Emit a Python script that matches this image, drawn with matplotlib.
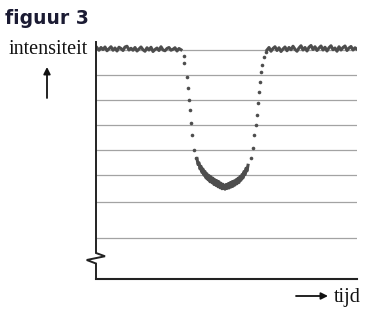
import matplotlib.pyplot as plt

# light curve (time in arbitrary units, intensity in %)
time_before = [1, 3, 5, 7, 9, 11, 13, 15, 17, 19, 21, 23, 25, 27, 29, 31, 33, 35, 37, 39, 41,
               43, 45, 47, 49, 51, 53, 55, 57, 59, 61, 63, 65, 67, 69, 71, 73, 75, 77, 79, 81, 83, 85]
flux_before = [100.9, 99.9, 101.0, 100.2, 101.2, 99.7, 100.5, 101.3, 99.9, 100.8, 99.6, 101.1,
               100.6, 99.8, 101.2, 101.5, 100.0, 100.7, 99.9, 101.0, 99.6, 100.4, 101.2, 100.1,
               99.5, 100.9, 100.0, 101.1, 99.4, 100.2, 100.8, 99.8, 101.3, 100.0, 99.7, 100.6,
               101.0, 99.9, 100.3, 100.9, 99.6, 100.6, 100.1]

time_ingress = [87.5, 88.3, 90.7, 92.3, 93.3, 94.0, 95.0, 96.3, 98.3, 100.0]
flux_ingress = [97.6, 94.8, 89.3, 84.8, 80.0, 76.0, 70.8, 66.0, 60.0, 56.8]

time_bottom = [101, 102, 103, 104, 105, 106, 107, 108, 109, 110, 111, 112, 113, 114, 115, 116,
               117, 118, 119, 120, 121, 122, 123, 124, 125, 126, 127, 128, 129, 130, 131, 132,
               133, 134, 135, 136, 137, 138, 139, 140, 141, 142, 143, 144, 145, 146, 147, 148,
               149, 150, 151, 152]
flux_bottom = [56.6, 54.2, 54.9, 52.4, 53.5, 51.0, 52.4, 49.9, 51.4, 48.8, 50.5, 48.1, 49.8, 47.3,
               49.3, 46.9, 48.7, 46.2, 48.1, 45.8, 47.7, 45.3, 47.3, 44.9, 46.7, 44.5, 46.3, 44.8,
               44.3, 46.2, 44.6, 46.5, 44.8, 46.9, 45.2, 47.3, 45.5, 47.6, 46.0, 48.1, 46.5, 48.7,
               47.0, 49.4, 47.9, 50.2, 48.8, 51.4, 50.1, 52.7, 51.6, 53.9]

time_egress = [154.7, 156.7, 158.3, 159.7, 160.7, 161.7, 163.0, 164.0, 165.0, 166.3, 168.3, 170.0]
flux_egress = [56.8, 60.8, 66.0, 70.0, 74.0, 78.8, 83.3, 87.3, 91.3, 94.0, 97.3, 99.3]

time_after = [171, 173, 175, 177, 179, 181, 183, 185, 187, 189, 191, 193, 195, 197, 199, 201, 203,
              205, 207, 209, 211, 213, 215, 217, 219, 221, 223, 225, 227, 229, 231, 233, 235, 237,
              239, 241, 243, 245, 247, 249, 251, 253, 255, 257, 259, 261]
flux_after = [100.0, 101.0, 99.5, 100.6, 101.3, 99.8, 100.9, 99.4, 100.4, 101.2, 99.7, 101.0,
              100.1, 101.5, 100.3, 99.5, 100.8, 101.7, 100.0, 101.0, 99.6, 101.1, 101.8, 100.2,
              101.3, 99.8, 100.8, 101.6, 100.0, 101.1, 99.6, 100.9, 101.7, 100.1, 100.8, 99.5,
              101.3, 100.0, 101.0, 101.6, 99.8, 100.8, 101.4, 100.0, 100.9, 100.3]

grid_levels = [100, 90, 80, 70, 60, 50, 39.2, 24.8]
break_level = 16.8

fig = plt.figure(figsize=(3.74, 3.15), dpi=100)
ax = fig.add_axes([96 / 374, 36 / 315, 261 / 374, 237 / 315])
ax.set_xlim(0, 261)
ax.set_ylim(8.4, 103.2)

for g in grid_levels:
    ax.axhline(g, color='#a3a3a3', lw=0.9, zorder=1)

curve = '#4d4d4d'
ax.plot(time_before, flux_before, color=curve, lw=2.2, zorder=3)
ax.plot(time_after, flux_after, color=curve, lw=2.2, zorder=3)
ax.plot(time_bottom, flux_bottom, color=curve, lw=2.2, zorder=3)
ax.plot(time_ingress, flux_ingress, 'o', color=curve, ms=2.6, mew=0, zorder=3)
ax.plot(time_egress, flux_egress, 'o', color=curve, ms=2.6, mew=0, zorder=3)

# axes: bottom spine normal, left spine drawn by hand with a break mark
for s in ['top', 'right', 'left']:
    ax.spines[s].set_visible(False)
ax.spines['bottom'].set_color('#222222')
ax.spines['bottom'].set_linewidth(1.5)
ax.set_xticks([])
ax.set_yticks([])
zz_x = [0, 0, 9, -9.3, 0, 0]
zz_y = [103.2, break_level + 2.0, break_level + 0.7, break_level - 0.8, break_level - 2.2, 8.4]
ax.plot(zz_x, zz_y, color='#222222', lw=1.4, clip_on=False, zorder=4,
        solid_joinstyle='miter')

fig.text(5 / 374, 1 - 24 / 315, 'figuur 3', fontsize=13.5, fontweight='bold',
         color='#1b1b33', family='DejaVu Sans')
fig.text(9 / 374, 1 - 54 / 315, 'intensiteit', fontsize=14.5, family='Liberation Serif',
         color='#111111')
fig.text(334 / 374, 1 - 302 / 315, 'tijd', fontsize=14.5, family='Liberation Serif',
         color='#111111')

arrow = dict(arrowstyle='-|>', color='#111111', lw=1.3, mutation_scale=10, shrinkA=0, shrinkB=0)
ax.annotate('', xy=(47, 315 - 67), xytext=(47, 315 - 98), xycoords='figure pixels',
            textcoords='figure pixels', arrowprops=arrow)
ax.annotate('', xy=(328, 315 - 296), xytext=(296, 315 - 296), xycoords='figure pixels',
            textcoords='figure pixels', arrowprops=arrow)

fig.savefig('out.png', dpi=100)
